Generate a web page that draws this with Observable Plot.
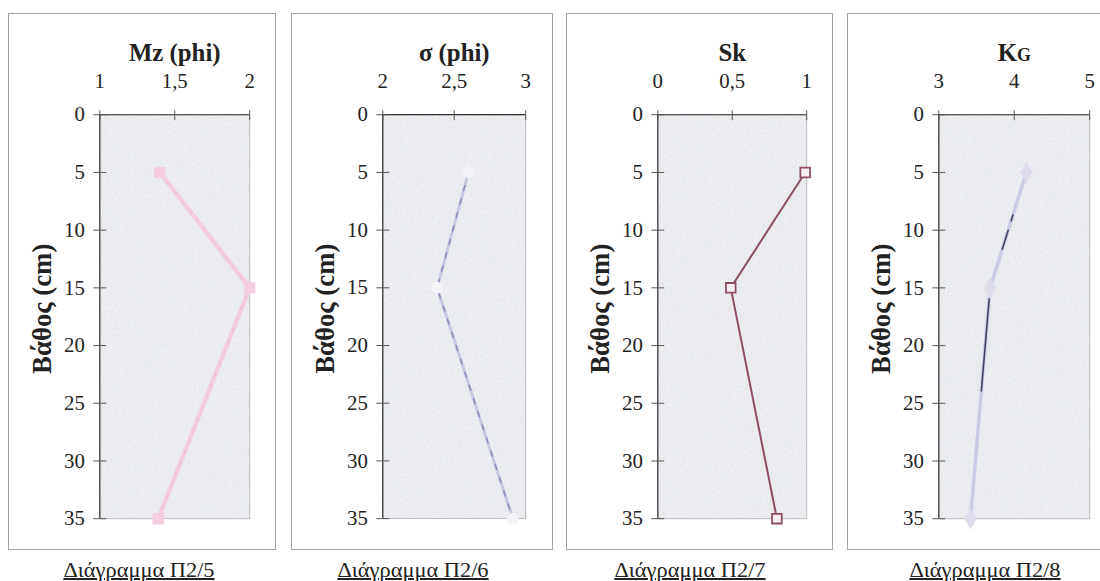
<!DOCTYPE html>
<html>
<head>
<meta charset="utf-8">
<script src="https://cdn.jsdelivr.net/npm/d3@7"></script>
<script src="https://cdn.jsdelivr.net/npm/@observablehq/plot@0.6"></script>
<style>
  html, body { margin: 0; padding: 0; background: #fff; }
  #root { position: relative; width: 1100px; height: 581px; overflow: hidden; background: #fff; }
  .frame { position: absolute; top: 13px; height: 537px; border: 1.5px solid #a0a0a0; box-sizing: border-box; }
  .frame svg { position: absolute; left: -1.5px; top: -1.5px; overflow: visible; }
  .caption { position: absolute; top: 561px; font-family: "Liberation Serif", serif; font-size: 20px; line-height: 18px; color: #222; text-decoration: underline; transform: translateX(-50%) scaleX(1.12); white-space: nowrap; }
</style>
</head>
<body>
<div id="root"></div>
<script>
// ---- data ----
const depths = [5, 15, 35];
const mzValues = [1.40, 2.00, 1.39];
const sigmaValues = [2.60, 2.38, 2.91];
const skValues = [0.99, 0.49, 0.80];
const kgValues = [4.16, 3.68, 3.42];
const panelTitles = ["Mz (phi)", "σ (phi)", "Sk", "KG"];
const captions = ["Διάγραμμα Π2/5", "Διάγραμμα Π2/6", "Διάγραμμα Π2/7", "Διάγραμμα Π2/8"];
const xDomains = [[1, 2], [2, 3], [0, 1], [3, 5]];
const xTicks = [[1, 1.5, 2], [2, 2.5, 3], [0, 0.5, 1], [3, 4, 5]];
const yTicks = [0, 5, 10, 15, 20, 25, 30, 35];
const yLabel = "Βάθος (cm)";

const SERIF = '"Liberation Serif", serif';

// ---- layout ----
const panels = [
  {left: 8,   w: 268, pw: 151, cap: 139, values: mzValues},
  {left: 291, w: 262, pw: 144, cap: 413, values: sigmaValues},
  {left: 566, w: 267, pw: 150, cap: 690, values: skValues},
  {left: 847, w: 272, pw: 152, cap: 985, values: kgValues}
];

const styles = [
  (data) => [
    Plot.line(data, {x: "v", y: "depth", stroke: "#f3cce0", strokeWidth: 4.5}),
    Plot.line(data, {x: "v", y: "depth", stroke: "#e2a4c4", strokeWidth: 1, strokeDasharray: "3,9", strokeOpacity: 0.5}),
    Plot.dot(data, {x: "v", y: "depth", symbol: "square", r: 6.5, fill: "#f4cde0", stroke: "none"})
  ],
  (data) => [
    Plot.line(data, {x: "v", y: "depth", stroke: "#c6c7e0", strokeWidth: 3}),
    Plot.line(data, {x: "v", y: "depth", stroke: "#8a8ab8", strokeWidth: 1.5, strokeDasharray: "5,9"}),
    Plot.dot(data, {x: "v", y: "depth", symbol: "circle", r: 6, fill: "#f3f3f7", stroke: "none"})
  ],
  (data) => [
    Plot.line(data, {x: "v", y: "depth", stroke: "#8e4f60", strokeWidth: 2}),
    Plot.dot(data, {x: "v", y: "depth", symbol: "square", r: 5.5, fill: "#f5eef2", stroke: "#8e4f60", strokeWidth: 1.8})
  ],
  (data) => [
    Plot.line(data, {x: "v", y: "depth", stroke: "#c9cae3", strokeWidth: 3.5}),
    Plot.line(data, {x: "v", y: "depth", stroke: "#3e3e5e", strokeWidth: 1.5, strokeDasharray: "0,45,6,10,20,52,93,1000"}),
    Plot.dot(data, {x: "v", y: "depth", symbol: "diamond", r: 6.5, fill: "#dcdcea", stroke: "none"})
  ]
];

const fmt = (d) => String(d).replace(".", ",");
const root = document.getElementById("root");
const SVGNS = "http://www.w3.org/2000/svg";

panels.forEach((p, i) => {
  const data = depths.map((d, k) => ({depth: d, v: p.values[k]}));
  const frame = document.createElement("div");
  frame.className = "frame";
  frame.style.left = p.left + "px";
  frame.style.width = p.w + "px";
  root.appendChild(frame);

  const chart = Plot.plot({
    width: p.w,
    height: 537,
    marginLeft: 92,
    marginRight: p.w - 92 - p.pw,
    marginTop: 102,
    marginBottom: 28,
    style: {fontFamily: SERIF, fontSize: "21px", background: "transparent", color: "#222", overflow: "visible"},
    x: {domain: xDomains[i], axis: null},
    y: {domain: [0, 35], reverse: true, axis: null},
    marks: [
      Plot.frame({fill: "#eceef1", stroke: "#b9b9b9"}),
      Plot.ruleY([0], {stroke: "#333", strokeWidth: 1.2}),
      Plot.ruleX([xDomains[i][0]], {stroke: "#333", strokeWidth: 1.2}),
      Plot.axisX({anchor: "top", ticks: xTicks[i], tickSize: 5, tickPadding: 22, tickFormat: fmt, label: null, stroke: "#555", fontSize: 21}),
      Plot.axisX({anchor: "top", ticks: xTicks[i], tickSize: -5, tickFormat: () => "", label: null, stroke: "#555"}),
      Plot.axisY({anchor: "left", ticks: yTicks, tickSize: 6, tickPadding: 9, tickFormat: fmt, label: null, stroke: "#555", fontSize: 21}),
      Plot.axisY({anchor: "left", ticks: yTicks, tickSize: -7, tickFormat: () => "", label: null, stroke: "#555"}),
      ...styles[i](data),
      Plot.text([panelTitles[i]], {frameAnchor: "top", dy: -72, fontWeight: "bold", fontSize: 25, fill: "#222"}),
      Plot.text([yLabel], {frameAnchor: "left", textAnchor: "middle", lineAnchor: "middle", rotate: -90, dx: -58, dy: -8, fontWeight: "bold", fontSize: 27, fill: "#222"})
    ]
  });
  frame.appendChild(chart);

  // grain texture over the plot area (cloned from Plot's own frame rect)
  const defs = document.createElementNS(SVGNS, "defs");
  defs.innerHTML = `<filter id="grain${i}" x="0" y="0" width="1" height="1">
      <feTurbulence type="fractalNoise" baseFrequency="0.9" numOctaves="2" seed="${i + 2}" result="n"/>
      <feColorMatrix in="n" type="matrix" values="0 0 0 0 0.55  0 0 0 0 0.57  0 0 0 0 0.62  1.6 0 0 0 -0.72" result="g"/>
      <feComposite in="g" in2="SourceGraphic" operator="in"/>
    </filter>`;
  chart.insertBefore(defs, chart.firstChild);
  const frameRect = chart.querySelector('[aria-label="frame"] rect, rect[aria-label="frame"]');
  if (frameRect) {
    const grain = frameRect.cloneNode(true);
    grain.setAttribute("fill", "#fff");
    grain.setAttribute("stroke", "none");
    grain.setAttribute("filter", `url(#grain${i})`);
    grain.setAttribute("opacity", "0.55");
    frameRect.parentNode.insertBefore(grain, frameRect.nextSibling);
  }

  chart.querySelectorAll("text").forEach((t) => {
    if (t.textContent === "KG") {
      const tsp = t.querySelector("tspan") || t;
      tsp.textContent = "K";
      const g = document.createElementNS(SVGNS, "tspan");
      g.setAttribute("font-size", "18");
      g.textContent = "G";
      tsp.appendChild(g);
    }
  });

  const cap = document.createElement("div");
  cap.className = "caption";
  cap.style.left = p.cap + "px";
  cap.textContent = captions[i];
  root.appendChild(cap);
});
</script>
</body>
</html>
